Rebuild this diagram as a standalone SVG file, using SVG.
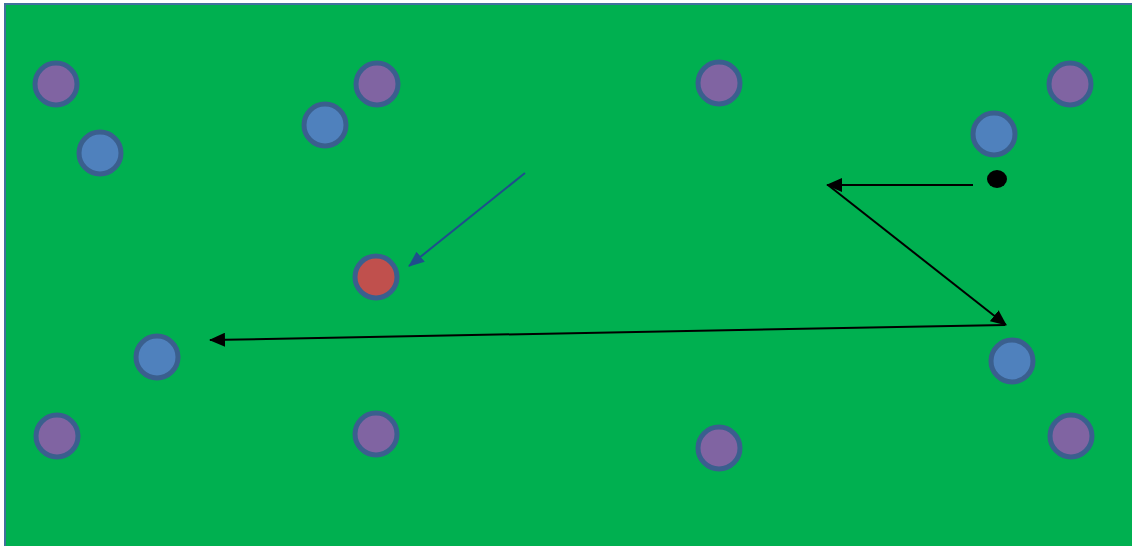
<svg xmlns="http://www.w3.org/2000/svg" width="1132" height="546" viewBox="0 0 1132 546">
  <style>
    .dot { stroke: #3A5F8E; stroke-width: 5; }
    .purple { fill: #8064A2; }
    .blue { fill: #4F81BD; }
    .red { fill: #C0504D; }
    .arrow { fill: none; stroke: #000; stroke-width: 2; }
    .arrow-blue { fill: none; stroke: #1F4E8C; stroke-width: 2; }
  </style>
  <defs>
    <marker id="head" viewBox="0 0 16 14" refX="15" refY="7" markerWidth="16" markerHeight="14" markerUnits="userSpaceOnUse" orient="auto">
      <path d="M0,0 L16,7 L0,14 z" fill="#000"/>
    </marker>
    <marker id="headBlue" viewBox="0 0 16 13" refX="15" refY="6.5" markerWidth="16" markerHeight="13" markerUnits="userSpaceOnUse" orient="auto">
      <path d="M0,0 L16,6.5 L0,13 z" fill="#1F4E8C"/>
    </marker>
  </defs>
  <rect width="1132" height="546" fill="#FFFFFF"/>
  <!-- pitch -->
  <rect x="5" y="4" width="1130" height="545" fill="#00B050" stroke="#41719C" stroke-width="2"/>

  <!-- corner and mid markers -->
  <g id="p1"><circle class="dot purple" cx="56" cy="84" r="21"/></g>
  <g id="p2"><circle class="dot purple" cx="377" cy="84" r="21"/></g>
  <g id="p3"><circle class="dot purple" cx="719" cy="83" r="21"/></g>
  <g id="p4"><circle class="dot purple" cx="1070" cy="84" r="21"/></g>
  <g id="p5"><circle class="dot purple" cx="57" cy="436" r="21"/></g>
  <g id="p6"><circle class="dot purple" cx="376" cy="434" r="21"/></g>
  <g id="p7"><circle class="dot purple" cx="719" cy="448" r="21"/></g>
  <g id="p8"><circle class="dot purple" cx="1071" cy="436" r="21"/></g>

  <!-- players -->
  <g id="b1"><circle class="dot blue" cx="100" cy="153" r="21"/></g>
  <g id="b2"><circle class="dot blue" cx="325" cy="125" r="21"/></g>
  <g id="b3"><circle class="dot blue" cx="994" cy="134" r="21"/></g>
  <g id="b4"><circle class="dot blue" cx="157" cy="357" r="21"/></g>
  <g id="b5"><circle class="dot blue" cx="1012" cy="361" r="21"/></g>
  <g id="r1"><circle class="dot red" cx="376" cy="277" r="21"/></g>

  <!-- ball -->
  <g id="ball"><ellipse cx="997" cy="179" rx="10" ry="9" fill="#000"/></g>

  <!-- movement lines -->
  <g id="connectors">
    <line class="arrow-blue" x1="525" y1="173" x2="409" y2="266" marker-end="url(#headBlue)"/>
    <line class="arrow" x1="973" y1="185" x2="827" y2="185" marker-end="url(#head)"/>
    <line class="arrow" x1="828" y1="185" x2="1006" y2="325" marker-end="url(#head)"/>
    <line class="arrow" x1="1005" y1="325" x2="210" y2="340" marker-end="url(#head)"/>
  </g>
</svg>
